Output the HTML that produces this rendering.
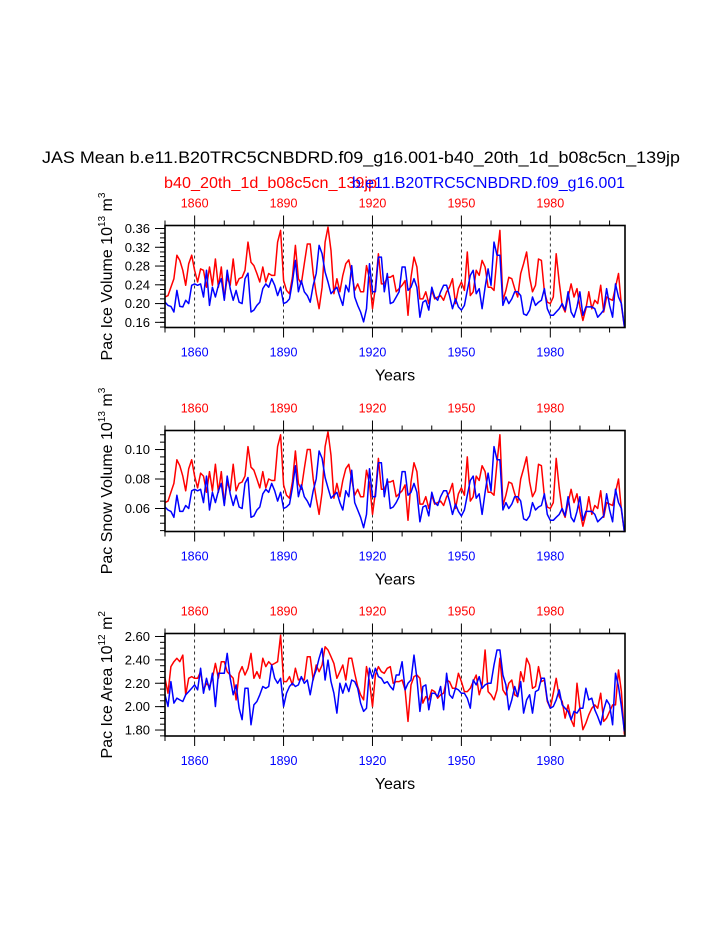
<!DOCTYPE html>
<html><head><meta charset="utf-8"><style>
html,body{margin:0;padding:0;background:#fff;}
svg{display:block;font-family:"Liberation Sans",Arial,sans-serif;}
</style></head><body>
<svg id="chart" width="723" height="935" viewBox="0 0 723 935" xmlns="http://www.w3.org/2000/svg">
<text x="361" y="163" font-size="17" text-anchor="middle" textLength="638" lengthAdjust="spacingAndGlyphs">JAS Mean b.e11.B20TRC5CNBDRD.f09_g16.001-b40_20th_1d_b08c5cn_139jp</text>
<text x="164" y="188" font-size="15.5" fill="#ff0000" textLength="213" lengthAdjust="spacingAndGlyphs">b40_20th_1d_b08c5cn_139jp</text>
<text x="625" y="188" font-size="15.5" fill="#0000ff" text-anchor="end" textLength="273" lengthAdjust="spacingAndGlyphs">b.e11.B20TRC5CNBDRD.f09_g16.001</text>
<g id="panels"></g>
</svg>
<script>
const years = []; for (let y = 1850; y <= 2005; y++) years.push(y);
const xTickYears = [1860, 1890, 1920, 1950, 1980];

const volRed = [0.214,0.217,0.235,0.253,0.303,0.292,0.271,0.239,0.285,0.303,0.271,0.246,0.274,0.271,0.235,0.278,0.239,0.295,0.235,0.278,0.210,0.256,0.239,0.295,0.239,0.253,0.256,0.271,0.331,0.288,0.281,0.264,0.246,0.278,0.246,0.264,0.260,0.260,0.331,0.356,0.249,0.228,0.221,0.256,0.324,0.253,0.242,0.285,0.327,0.327,0.264,0.221,0.189,0.235,0.331,0.363,0.313,0.221,0.253,0.225,0.260,0.285,0.293,0.264,0.228,0.242,0.225,0.225,0.281,0.253,0.189,0.235,0.306,0.242,0.242,0.256,0.256,0.260,0.225,
0.232,0.239,0.249,0.175,0.256,0.299,0.278,0.210,0.210,0.225,0.200,0.228,0.210,0.214,0.217,0.207,0.225,0.235,0.253,0.200,0.232,0.246,0.228,0.310,0.217,0.225,0.271,0.260,0.292,0.278,0.235,0.235,0.228,0.299,0.356,0.207,0.228,0.256,0.253,0.232,0.214,0.264,0.285,0.310,0.256,0.225,0.239,0.295,0.292,0.225,0.203,0.200,0.214,0.306,0.246,0.196,0.182,0.214,0.242,0.214,0.232,0.193,0.164,0.189,0.225,0.189,0.207,0.200,0.239,0.182,0.214,0.210,0.207,0.235,0.264,0.196,0.150];
const volBlue = [0.203,0.196,0.194,0.182,0.228,0.194,0.193,0.207,0.200,0.239,0.242,0.239,0.242,0.214,0.271,0.196,0.235,0.214,0.239,0.253,0.207,0.271,0.232,0.207,0.228,0.203,0.200,0.253,0.265,0.182,0.186,0.196,0.203,0.232,0.242,0.235,0.253,0.239,0.217,0.235,0.200,0.203,0.210,0.246,0.292,0.225,0.249,0.225,0.217,0.203,0.239,0.264,0.324,0.306,0.267,0.246,0.221,0.228,0.235,0.214,0.196,0.239,0.225,0.281,0.214,0.196,0.182,0.161,0.189,0.285,0.225,0.225,0.299,0.299,0.225,0.264,0.200,0.203,0.214,
0.225,0.278,0.278,0.228,0.235,0.253,0.235,0.171,0.203,0.207,0.186,0.235,0.214,0.207,0.225,0.239,0.239,0.217,0.189,0.210,0.193,0.186,0.196,0.228,0.260,0.271,0.221,0.232,0.189,0.235,0.274,0.239,0.331,0.303,0.303,0.196,0.214,0.200,0.210,0.225,0.225,0.217,0.178,0.175,0.186,0.214,0.196,0.203,0.207,0.232,0.189,0.175,0.175,0.182,0.189,0.200,0.186,0.225,0.182,0.171,0.193,0.225,0.175,0.193,0.193,0.193,0.189,0.171,0.178,0.186,0.232,0.196,0.171,0.242,0.214,0.200,0.150];

const snowRed = [0.064,0.065,0.071,0.077,0.093,0.089,0.082,0.072,0.087,0.093,0.082,0.074,0.084,0.082,0.071,0.085,0.072,0.090,0.071,0.085,0.063,0.078,0.072,0.090,0.072,0.077,0.078,0.082,0.102,0.088,0.086,0.080,0.074,0.085,0.074,0.080,0.079,0.079,0.102,0.110,0.076,0.069,0.067,0.078,0.099,0.077,0.073,0.087,0.100,0.100,0.080,0.067,0.056,0.071,0.102,0.112,0.096,0.067,0.077,0.068,0.079,0.087,0.090,0.080,0.069,0.073,0.068,0.068,0.086,0.077,0.056,0.071,0.094,0.073,0.073,0.078,0.078,0.079,0.068,
0.070,0.072,0.076,0.052,0.078,0.091,0.085,0.063,0.063,0.068,0.060,0.069,0.063,0.064,0.065,0.062,0.068,0.071,0.077,0.060,0.070,0.074,0.069,0.095,0.065,0.068,0.082,0.079,0.089,0.085,0.071,0.071,0.069,0.091,0.110,0.062,0.069,0.078,0.077,0.070,0.064,0.080,0.087,0.095,0.078,0.068,0.072,0.090,0.089,0.068,0.061,0.060,0.064,0.094,0.074,0.059,0.054,0.064,0.073,0.064,0.070,0.058,0.048,0.056,0.068,0.056,0.062,0.060,0.072,0.054,0.064,0.063,0.062,0.071,0.080,0.059,0.044];
const snowBlue = [0.061,0.059,0.058,0.054,0.069,0.058,0.058,0.062,0.060,0.072,0.073,0.072,0.073,0.064,0.082,0.059,0.071,0.064,0.072,0.077,0.062,0.082,0.070,0.062,0.069,0.061,0.060,0.077,0.081,0.054,0.055,0.059,0.061,0.070,0.073,0.071,0.077,0.072,0.065,0.071,0.060,0.061,0.063,0.074,0.089,0.068,0.076,0.068,0.065,0.061,0.072,0.080,0.099,0.094,0.081,0.074,0.067,0.069,0.071,0.064,0.059,0.072,0.068,0.086,0.064,0.059,0.054,0.047,0.056,0.087,0.068,0.068,0.091,0.091,0.068,0.080,0.060,0.061,0.064,
0.068,0.085,0.085,0.069,0.071,0.077,0.071,0.051,0.061,0.062,0.055,0.071,0.064,0.062,0.068,0.072,0.072,0.065,0.056,0.063,0.058,0.055,0.059,0.069,0.079,0.082,0.067,0.070,0.056,0.071,0.084,0.072,0.102,0.093,0.093,0.059,0.064,0.060,0.063,0.068,0.068,0.065,0.053,0.052,0.055,0.064,0.059,0.061,0.062,0.070,0.056,0.052,0.052,0.054,0.056,0.060,0.055,0.068,0.054,0.051,0.058,0.068,0.052,0.058,0.058,0.058,0.056,0.051,0.053,0.055,0.070,0.059,0.051,0.073,0.064,0.060,0.044];

const areaRed = [2.242,2.115,2.342,2.384,2.413,2.384,2.441,2.101,2.242,2.257,2.242,2.242,2.299,2.143,2.200,2.172,2.242,2.370,2.242,2.384,2.384,2.299,2.271,2.242,2.058,2.285,2.342,2.271,2.328,2.455,2.242,2.299,2.242,2.413,2.342,2.384,2.356,2.370,2.384,2.611,2.214,2.214,2.257,2.186,2.328,2.228,2.242,2.228,2.427,2.427,2.228,2.356,2.299,2.356,2.512,2.484,2.427,2.370,2.242,2.299,2.356,2.228,2.413,2.413,2.285,2.172,2.101,2.058,2.342,2.214,2.001,2.271,2.342,2.299,2.285,2.328,2.342,2.200,2.214,
2.214,2.228,2.143,1.874,2.186,2.257,2.271,2.242,2.030,2.086,2.058,2.143,2.129,2.072,2.101,2.115,2.228,2.214,2.157,2.157,2.285,2.214,2.129,2.129,2.157,2.214,2.271,2.101,2.186,2.484,2.129,2.101,2.058,2.143,2.413,2.143,2.101,2.200,2.228,2.101,2.086,2.299,2.214,2.413,2.356,2.157,2.172,2.342,2.214,2.228,2.044,1.987,2.115,2.242,2.086,2.044,1.902,2.015,1.888,1.831,2.200,1.987,1.803,1.859,1.930,1.987,2.015,1.987,2.115,1.874,1.902,1.959,2.015,2.015,2.313,2.129,1.760];
const areaBlue = [2.101,2.001,2.214,2.030,2.072,2.058,2.044,2.101,2.129,2.157,2.186,2.143,2.328,2.115,2.242,2.143,2.285,2.001,2.285,2.285,2.285,2.455,2.242,2.101,2.186,1.987,1.888,2.157,2.157,1.845,2.015,2.044,2.101,2.172,2.157,2.172,2.356,2.242,2.200,2.242,2.001,2.115,2.172,2.200,2.172,2.186,2.257,2.200,2.228,2.101,2.242,2.313,2.413,2.498,2.228,2.398,2.214,2.115,1.945,2.200,2.115,2.200,2.129,2.228,2.214,2.157,2.030,1.959,1.987,2.328,2.242,2.328,2.257,2.242,2.200,2.214,2.172,2.143,2.271,
2.271,2.384,2.143,2.200,2.228,2.441,2.242,1.959,2.172,2.186,1.973,2.115,2.115,2.086,2.172,1.973,2.285,2.101,2.072,2.157,2.143,2.115,2.115,2.072,1.987,2.228,2.186,2.257,2.157,2.186,2.200,2.200,2.356,2.484,2.484,2.271,2.186,1.973,2.058,2.172,2.086,2.214,1.945,2.058,2.101,1.945,2.129,2.143,2.242,2.242,2.058,1.987,2.001,2.058,2.143,2.015,1.987,1.959,1.888,1.959,1.945,1.987,1.987,2.157,2.058,2.072,1.973,1.916,1.845,1.973,2.058,2.015,1.845,2.285,2.172,2.001,1.788];

const volTicks = [0.16,0.20,0.24,0.28,0.32,0.36];
const snowTicks = [0.06,0.08,0.10];
const areaTicks = [1.80,2.00,2.20,2.40,2.60];
const volTickLabels = ["0.16","0.20","0.24","0.28","0.32","0.36"];
const snowTickLabels = ["0.06","0.08","0.10"];
const areaTickLabels = ["1.80","2.00","2.20","2.40","2.60"];

const NS = "http://www.w3.org/2000/svg";
const root = document.getElementById("panels");
function mk(tag, attrs, parent) {
  const e = document.createElementNS(NS, tag);
  for (const k in attrs) e.setAttribute(k, attrs[k]);
  (parent || root).appendChild(e);
  return e;
}
const X0 = 165, X1 = 625, YR0 = 1850, YR1 = 2005.2;
function xScale(yr) { return X0 + (yr - YR0) / (YR1 - YR0) * (X1 - X0); }

function panel(cfg) {
  const g = mk("g", {});
  
  
  const yScale = v => cfg.top + (cfg.vmax - v) / (cfg.vmax - cfg.vmin) * (cfg.bot - cfg.top);
  // dashed grid lines
  xTickYears.forEach(yr => {
    const l = mk("line", {x1: xScale(yr), x2: xScale(yr), y1: cfg.top, y2: cfg.bot, stroke: "#000", "stroke-width": 0.8, "stroke-dasharray": "3,3"}, g);
    
    
  });
  // series
  [[cfg.red, "#ff0000", "red-series-line"], [cfg.blue, "#0000ff", "blue-series-line"]].forEach(([arr, col, nm]) => {
    const pts = arr.map((v, i) => xScale(years[i]).toFixed(1) + "," + yScale(v).toFixed(1)).join(" ");
    const p = mk("polyline", {points: pts, fill: "none", stroke: col, "stroke-width": 1.5, "stroke-linejoin": "round"}, g);
    
    
  });
  // x ticks (top and bottom)
  for (let yr = 1850; yr <= 2005; yr += 10) {
    const major = xTickYears.includes(yr);
    const len = major ? 10 : 5;
    const x = xScale(yr);
    mk("line", {x1: x, x2: x, y1: cfg.top, y2: cfg.top - len, stroke: "#000", "stroke-width": 1}, g);
    mk("line", {x1: x, x2: x, y1: cfg.bot, y2: cfg.bot + len, stroke: "#000", "stroke-width": 1}, g);
  }
  xTickYears.forEach(yr => {
    const t1 = mk("text", {x: xScale(yr), y: cfg.top - 18, "font-size": 12.5, fill: "#ff0000", "text-anchor": "middle"}, g);
    t1.textContent = yr;
    
    
    const t2 = mk("text", {x: xScale(yr), y: cfg.bot + 29, "font-size": 12.5, fill: "#0000ff", "text-anchor": "middle"}, g);
    t2.textContent = yr;
    
    
  });
  // y minor ticks
  for (let v = cfg.minorStart; v <= cfg.vmax + 1e-9; v += cfg.minorStep) {
    const y = yScale(v);
    if (y < cfg.top - 0.5 || y > cfg.bot + 0.5) continue;
    mk("line", {x1: X0, x2: X0 - 5, y1: y, y2: y, stroke: "#000", "stroke-width": 1}, g);
  }
  cfg.ticks.forEach((v, i) => {
    const y = yScale(v);
    mk("line", {x1: X0, x2: X0 - 10, y1: y, y2: y, stroke: "#000", "stroke-width": 1}, g);
    const t = mk("text", {x: 150, y: y + 4.5, "font-size": 13, "text-anchor": "end"}, g);
    t.textContent = cfg.tickLabels[i];
    
    
  });
  // frame
  const f = mk("rect", {x: X0, y: cfg.top, width: X1 - X0, height: cfg.bot - cfg.top, fill: "none", stroke: "#000", "stroke-width": 1.6}, g);
  
  
  // x title
  const xt = mk("text", {x: 395, y: cfg.bot + 53, "font-size": 16, "text-anchor": "middle"}, g);
  xt.textContent = "Years";
  
  
  // y title
  const cy = (cfg.top + cfg.bot) / 2 + cfg.titleShift;
  const yt = mk("text", {x: 0, y: 0, "font-size": 16, "text-anchor": "middle", transform: "translate(112," + cy + ") rotate(-90)"}, g);
  
  
  yt.innerHTML = cfg.title + ' 10<tspan font-size="10" dy="-7">' + cfg.exp + '</tspan><tspan dy="7"> m</tspan><tspan font-size="10" dy="-7">' + cfg.unitExp + '</tspan>';
}

panel({name: "ice-volume-panel", top: 225.5, bot: 327.5, vmin: 0.149, vmax: 0.3664, ticks: volTicks, tickLabels: volTickLabels, minorStart: 0.15, minorStep: 0.01, red: volRed, blue: volBlue, title: "Pac Ice Volume", exp: "13", unitExp: "3", titleShift: 0});
panel({name: "snow-volume-panel", top: 430.5, bot: 531.5, vmin: 0.0444, vmax: 0.1129, ticks: snowTicks, tickLabels: snowTickLabels, minorStart: 0.045, minorStep: 0.005, red: snowRed, blue: snowBlue, title: "Pac Snow Volume", exp: "13", unitExp: "3", titleShift: 0});
panel({name: "ice-area-panel", top: 633.5, bot: 736, vmin: 1.7489, vmax: 2.6255, ticks: areaTicks, tickLabels: areaTickLabels, minorStart: 1.75, minorStep: 0.05, red: areaRed, blue: areaBlue, title: "Pac Ice Area", exp: "12", unitExp: "2", titleShift: 0});
</script>
</body></html>
